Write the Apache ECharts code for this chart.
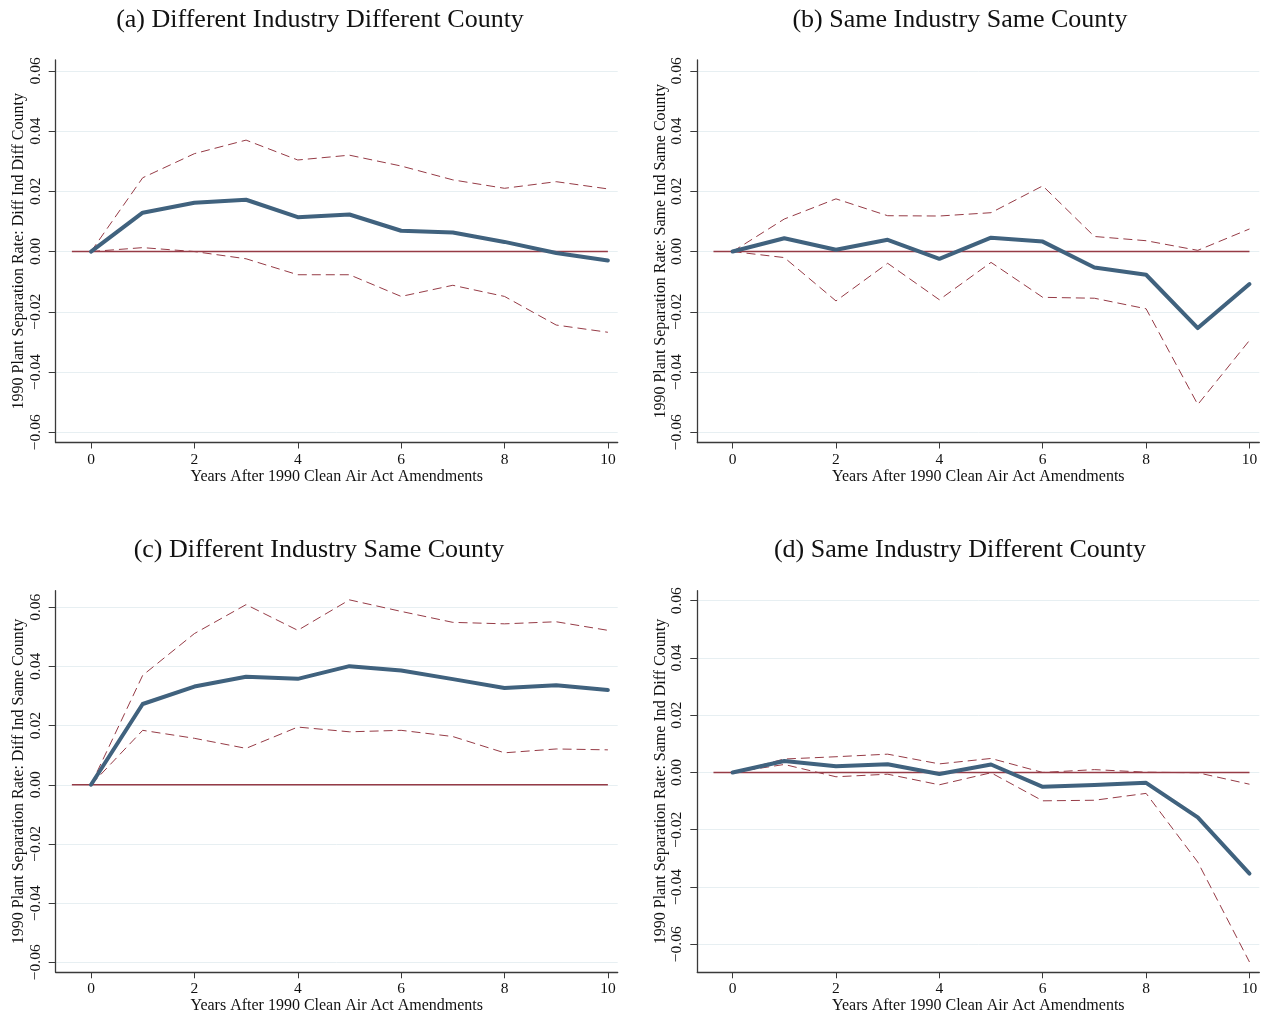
<!DOCTYPE html>
<html>
<head>
<meta charset="utf-8">
<script src="https://cdn.jsdelivr.net/npm/echarts@6/dist/echarts.min.js"></script>
<style>
  html, body { margin: 0; padding: 0; background: #fff; }
  #chart { width: 1270px; height: 1019px; }
</style>
</head>
<body>
<div id="chart"></div>
<script>
// years after the amendments
var years = [0, 1, 2, 3, 4, 5, 6, 7, 8, 9, 10];
var xTicks = [0, 2, 4, 6, 8, 10];
var yTicks = [-0.06, -0.04, -0.02, 0, 0.02, 0.04, 0.06];
var zeroLineX = [-0.37, 10];

// (a) different industry, different county
var aMain  = [0, 0.0129, 0.0162, 0.0172, 0.0114, 0.0123, 0.0069, 0.0063, 0.0032, -0.0005, -0.0030];
var aUpper = [0, 0.0245, 0.0325, 0.0370, 0.0304, 0.0320, 0.0284, 0.0238, 0.0210, 0.0232, 0.0208];
var aLower = [0, 0.0013, 0.0000, -0.0024, -0.0077, -0.0077, -0.0149, -0.0112, -0.0149, -0.0244, -0.0268];

// (b) same industry, same county
var bMain  = [0, 0.0044, 0.0006, 0.0039, -0.0024, 0.0046, 0.0033, -0.0053, -0.0077, -0.0254, -0.0108];
var bUpper = [0, 0.0108, 0.0175, 0.0119, 0.0118, 0.0129, 0.0218, 0.0050, 0.0036, 0.0004, 0.0075];
var bLower = [0, -0.0020, -0.0164, -0.0039, -0.0160, -0.0036, -0.0152, -0.0155, -0.0190, -0.0508, -0.0295];

// (c) different industry, same county
var cMain  = [0, 0.0273, 0.0332, 0.0365, 0.0358, 0.0401, 0.0386, 0.0357, 0.0327, 0.0336, 0.0320];
var cUpper = [0, 0.0370, 0.0511, 0.0609, 0.0522, 0.0625, 0.0586, 0.0549, 0.0544, 0.0551, 0.0522];
var cLower = [0, 0.0184, 0.0157, 0.0123, 0.0195, 0.0179, 0.0184, 0.0163, 0.0108, 0.0121, 0.0118];

// (d) same industry, different county
var dMain  = [0, 0.0040, 0.0022, 0.0029, -0.0005, 0.0028, -0.0050, -0.0044, -0.0036, -0.0157, -0.0353];
var dUpper = [0, 0.0047, 0.0055, 0.0064, 0.0030, 0.0049, 0.0000, 0.0010, 0.0001, -0.0001, -0.0041];
var dLower = [0, 0.0028, -0.0015, -0.0006, -0.0043, -0.0001, -0.0099, -0.0097, -0.0073, -0.0313, -0.0662];

var panels = [
  {title: '(a) Different Industry Different County', ytitle: '1990 Plant Separation Rate: Diff Ind Diff County',
   main: aMain, upper: aUpper, lower: aLower, left: 55.7, top: 60, height: 382.5, ymin: -0.0634, ymax: 0.0636, tx: 315, ty: 2},
  {title: '(b) Same Industry Same County', ytitle: '1990 Plant Separation Rate: Same Ind Same County',
   main: bMain, upper: bUpper, lower: bLower, left: 697.3, top: 60, height: 382.5, ymin: -0.0634, ymax: 0.0636, tx: 955, ty: 2},
  {title: '(c) Different Industry Same County', ytitle: '1990 Plant Separation Rate: Diff Ind Same County',
   main: cMain, upper: cUpper, lower: cLower, left: 55.7, top: 590.7, height: 381.6, ymin: -0.0634, ymax: 0.0656, tx: 314, ty: 532},
  {title: '(d) Same Industry Different County', ytitle: '1990 Plant Separation Rate: Same Ind Diff County',
   main: dMain, upper: dUpper, lower: dLower, left: 697.3, top: 590.7, height: 381.6, ymin: -0.0698, ymax: 0.0635, tx: 955, ty: 532}
];

var serif = 'Liberation Serif';
var axisCol = '#3a3a3a';
var mainCol = '#40627e';
var ciCol = '#963b46';

function pairs(ys) {
  return years.map(function (x, i) { return [x, ys[i]]; });
}

var titles = [], grids = [], xAxes = [], yAxes = [], series = [];

panels.forEach(function (p, k) {
  titles.push({
    text: p.title, left: p.tx, top: p.ty, textAlign: 'center',
    textStyle: {fontFamily: serif, fontSize: 26, fontWeight: 'normal', color: '#111'}
  });
  grids.push({left: p.left, top: p.top, width: 562, height: p.height});
  xAxes.push({
    gridIndex: k, type: 'value', min: -0.683, max: 10.19,
    name: 'Years After 1990 Clean Air Act Amendments', nameLocation: 'middle', nameGap: 25,
    nameTextStyle: {fontFamily: serif, fontSize: 16, color: '#111'},
    axisLine: {onZero: false, lineStyle: {color: axisCol, width: 1.3}},
    axisTick: {length: 6, lineStyle: {color: axisCol}, customValues: xTicks},
    axisLabel: {customValues: xTicks, margin: 9, fontFamily: serif, fontSize: 15.5, color: '#111'},
    splitLine: {show: false}
  });
  yAxes.push({
    gridIndex: k, type: 'value', min: p.ymin, max: p.ymax,
    name: p.ytitle, nameLocation: 'middle', nameGap: 27, nameRotate: 90,
    nameTextStyle: {fontFamily: serif, fontSize: 16, color: '#111'},
    axisLine: {show: true, onZero: false, lineStyle: {color: axisCol, width: 1.3}},
    axisTick: {show: true, length: 7, lineStyle: {color: axisCol}, customValues: yTicks},
    axisLabel: {
      customValues: yTicks, rotate: 90, margin: 12, fontFamily: serif, fontSize: 15.5, color: '#111',
      formatter: function (v) { return (v < 0 ? '\u2212' : '') + Math.abs(v).toFixed(2); }
    },
    splitLine: {show: true, lineStyle: {color: '#e7eff2', width: 1}}
  });
  series.push({
    type: 'line', xAxisIndex: k, yAxisIndex: k, silent: true, symbol: 'none',
    data: [[zeroLineX[0], 0], [zeroLineX[1], 0]],
    lineStyle: {color: ciCol, width: 1.6}
  });
  [p.upper, p.lower].forEach(function (ci) {
    series.push({
      type: 'line', xAxisIndex: k, yAxisIndex: k, silent: true, symbol: 'none',
      data: pairs(ci),
      lineStyle: {color: ciCol, width: 1, type: [9, 5]}
    });
  });
  series.push({
    type: 'line', xAxisIndex: k, yAxisIndex: k, silent: true, symbol: 'none',
    data: pairs(p.main),
    lineStyle: {color: mainCol, width: 4, join: 'round', cap: 'round'}
  });
});

var chart = echarts.init(document.getElementById('chart'));
chart.setOption({
  animation: false,
  backgroundColor: '#fff',
  title: titles,
  grid: grids,
  xAxis: xAxes,
  yAxis: yAxes,
  series: series
});
</script>
</body>
</html>
